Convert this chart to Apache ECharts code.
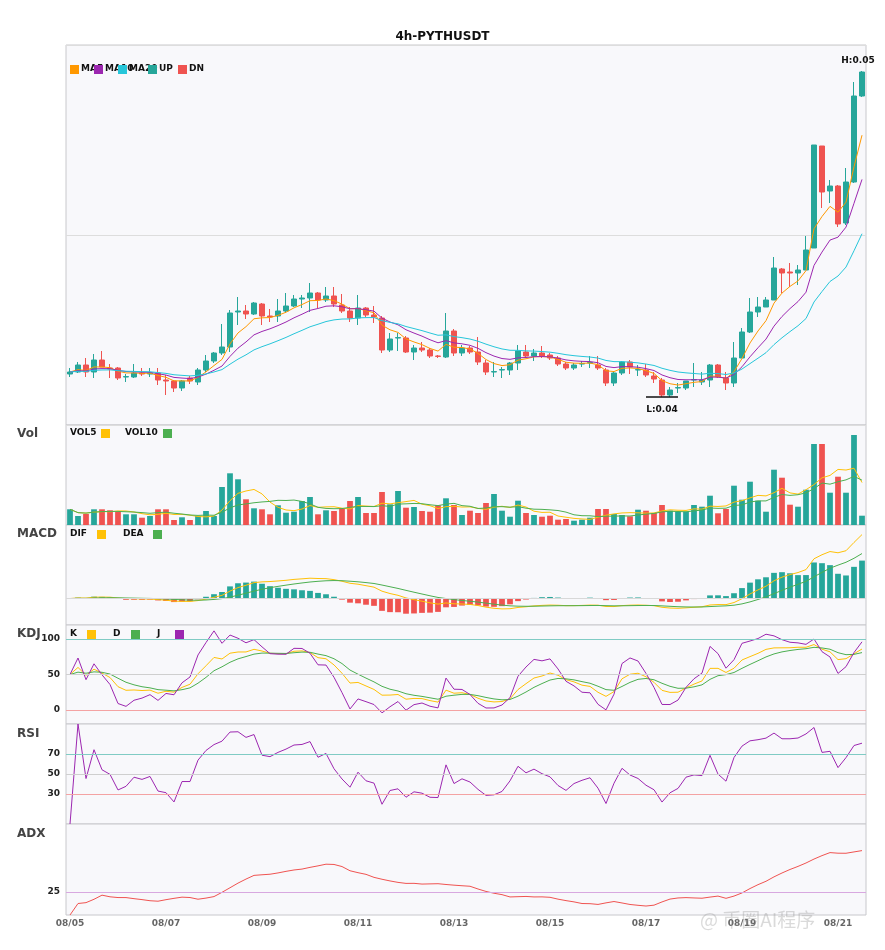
<!DOCTYPE html>
<html>
<head>
<meta charset="utf-8">
<script src="https://cdn.jsdelivr.net/npm/echarts@6/dist/echarts.min.js"></script>
<style>
html,body{margin:0;padding:0;background:#fff;}
#main{width:885px;height:950px;}
</style>
</head>
<body>
<div id="main"></div>
<script>
// 4h candles, 08/05 00:00 .. 08/21 12:00
var startDay = 5;
// [open, close, low, high]
var ohlc = [
[0.03955,0.03965,0.03940,0.03985],[0.03965,0.04000,0.03960,0.04015],[0.04000,0.03965,0.03940,0.04035],[0.03965,0.04025,0.03935,0.04055],
[0.04025,0.03990,0.03990,0.04070],[0.03985,0.03980,0.03935,0.04005],[0.03985,0.03935,0.03925,0.03990],[0.03940,0.03942,0.03915,0.03955],
[0.03940,0.03960,0.03935,0.04005],[0.03960,0.03955,0.03945,0.03985],[0.03955,0.03960,0.03940,0.03985],[0.03960,0.03925,0.03900,0.03985],
[0.03925,0.03920,0.03850,0.03950],[0.03920,0.03885,0.03865,0.03925],[0.03885,0.03920,0.03870,0.03925],[0.03935,0.03920,0.03905,0.03945],
[0.03915,0.03975,0.03900,0.03985],[0.03975,0.04020,0.03965,0.04050],[0.04020,0.04060,0.04010,0.04065],[0.04060,0.04090,0.04050,0.04205],
[0.04090,0.04260,0.04065,0.04275],[0.04265,0.04270,0.04200,0.04340],[0.04270,0.04255,0.04230,0.04300],[0.04255,0.04310,0.04250,0.04315],
[0.04305,0.04245,0.04200,0.04310],[0.04245,0.04240,0.04215,0.04280],[0.04245,0.04270,0.04215,0.04330],[0.04270,0.04295,0.04260,0.04360],
[0.04295,0.04330,0.04290,0.04350],[0.04330,0.04335,0.04285,0.04350],[0.04335,0.04360,0.04265,0.04410],[0.04360,0.04325,0.04285,0.04365],
[0.04325,0.04345,0.04315,0.04390],[0.04345,0.04305,0.04290,0.04390],[0.04300,0.04270,0.04260,0.04355],[0.04270,0.04235,0.04215,0.04290],
[0.04235,0.04285,0.04200,0.04350],[0.04285,0.04250,0.04240,0.04290],[0.04250,0.04240,0.04210,0.04295],[0.04235,0.04075,0.04060,0.04245],
[0.04075,0.04130,0.04065,0.04160],[0.04135,0.04137,0.04070,0.04160],[0.04135,0.04065,0.04060,0.04145],[0.04065,0.04085,0.04025,0.04100],
[0.04085,0.04075,0.04065,0.04115],[0.04075,0.04045,0.04035,0.04085],[0.04045,0.04043,0.04035,0.04050],[0.04040,0.04170,0.04035,0.04260],
[0.04170,0.04060,0.04045,0.04180],[0.04060,0.04085,0.04045,0.04100],[0.04085,0.04065,0.04055,0.04095],[0.04065,0.04015,0.04000,0.04140],
[0.04010,0.03965,0.03950,0.04025],[0.03965,0.03967,0.03940,0.04015],[0.03975,0.03977,0.03935,0.03990],[0.03975,0.04010,0.03950,0.04015],
[0.04010,0.04070,0.03975,0.04100],[0.04065,0.04045,0.04035,0.04100],[0.04045,0.04060,0.04020,0.04080],[0.04060,0.04045,0.04035,0.04095],
[0.04050,0.04035,0.04025,0.04060],[0.04035,0.04005,0.03995,0.04045],[0.04005,0.03985,0.03975,0.04015],[0.03985,0.04000,0.03975,0.04010],
[0.04005,0.04007,0.03990,0.04020],[0.04010,0.04012,0.03985,0.04045],[0.04000,0.03985,0.03975,0.04045],[0.03975,0.03910,0.03895,0.03985],
[0.03910,0.03960,0.03895,0.03970],[0.03960,0.04015,0.03950,0.04020],[0.04015,0.03990,0.03955,0.04025],[0.03975,0.03977,0.03945,0.04000],
[0.03975,0.03950,0.03940,0.04005],[0.03945,0.03930,0.03910,0.03965],[0.03925,0.03850,0.03840,0.03935],[0.03850,0.03875,0.03840,0.03890],
[0.03885,0.03887,0.03860,0.03910],[0.03885,0.03920,0.03875,0.03920],[0.03925,0.03927,0.03890,0.04010],[0.03915,0.03925,0.03900,0.03965],
[0.03925,0.04000,0.03890,0.04005],[0.04000,0.03940,0.03935,0.04005],[0.03935,0.03910,0.03875,0.03965],[0.03910,0.04035,0.03890,0.04115],
[0.04035,0.04165,0.04035,0.04185],[0.04165,0.04265,0.04160,0.04335],[0.04265,0.04290,0.04240,0.04340],[0.04290,0.04325,0.04290,0.04340],
[0.04325,0.04485,0.04325,0.04540],[0.04480,0.04460,0.04360,0.04485],[0.04465,0.04460,0.04390,0.04510],[0.04460,0.04475,0.04400,0.04500],
[0.04475,0.04575,0.04475,0.04645],[0.04585,0.05100,0.04585,0.05100],[0.05095,0.04865,0.04785,0.05095],[0.04870,0.04895,0.04810,0.04925],
[0.04895,0.04705,0.04690,0.04900],[0.04710,0.04915,0.04700,0.04985],[0.04915,0.05345,0.04910,0.05415],[0.05345,0.05465,0.05340,0.05470]
];
var volumes = [
15.7,9,11,15.7,15.7,14.7,13.3,10.7,10.7,7.3,9,15.7,15.7,5,7.7,5,9,14,9,38,
51.7,45.7,25.7,16.7,15.7,10.7,19.7,12.3,13.3,24,28,10.7,14.7,14,16.7,24,28,12,12,33,
20.7,34,17.3,18,14,13.3,19.7,26.7,20,10,14.3,12,22,31,14.3,8.3,24.3,12,10,8.3,
9.3,5.3,6,4.3,5.3,7.3,16,16,11,10,8.7,15.3,14.3,12,20,14.3,13.3,13.3,20,18.3,
29.3,11.7,16,39.3,25.3,43.3,24.3,13.3,55.3,47.3,20.3,18.3,35.3,81,81,32.3,48.3,32.3,90,9.3
];

var UP = '#26a69a', DN = '#ef5350';
var C_MA5 = '#ff9800', C_MA10 = '#9c27b0', C_MA20 = '#26c6da';
var C_Y = '#ffc107', C_G = '#4caf50';

var cats = [];
for (var i = 0; i < ohlc.length; i++) {
    var d = startDay + Math.floor(i / 6);
    var h = (i % 6) * 4;
    cats.push('08/' + (d < 10 ? '0' + d : d) + ' ' + (h < 10 ? '0' + h : h) + ':00');
}
var closes = ohlc.map(function (r) { return r[1]; });

function ma(arr, n) {
    var out = [];
    for (var i = 0; i < arr.length; i++) {
        var s = 0, c = 0;
        for (var j = Math.max(0, i - n + 1); j <= i; j++) { s += arr[j]; c++; }
        out.push(s / c);
    }
    return out;
}
function ema(arr, n) {
    var out = [], a = 2 / (n + 1);
    for (var i = 0; i < arr.length; i++) out.push(i ? out[i - 1] + a * (arr[i] - out[i - 1]) : arr[i]);
    return out;
}
var ma5 = ema(closes, 5), ma10 = ema(closes, 10), ma20 = ema(closes, 20);
var vol5 = ma(volumes, 5), vol10 = ma(volumes, 10);
var e12 = ema(closes, 12), e26 = ema(closes, 26);
var dif = e12.map(function (v, i) { return v - e26[i]; });
var dea = ema(dif, 9);
var hist = dif.map(function (v, i) { return (v - dea[i]) * 2; });

// KDJ 9,3,3
var kArr = [], dArr = [], jArr = [], K = 50, D = 50;
for (var i = 0; i < ohlc.length; i++) {
    var lo = 1e9, hi = -1e9;
    for (var j = Math.max(0, i - 8); j <= i; j++) { lo = Math.min(lo, ohlc[j][2]); hi = Math.max(hi, ohlc[j][3]); }
    var rsv = hi > lo ? (closes[i] - lo) / (hi - lo) * 100 : 50;
    if (i > 0) { K = 2 / 3 * K + rsv / 3; D = 2 / 3 * D + K / 3; }
    kArr.push(K); dArr.push(D); jArr.push(3 * K - 2 * D);
}
// RSI 6
var rsi = [0], ag = 0, al = 0;
for (var i = 1; i < closes.length; i++) {
    var ch = closes[i] - closes[i - 1];
    ag = ag + (Math.max(ch, 0) - ag) / 6;
    al = al + (Math.max(-ch, 0) - al) / 6;
    rsi.push(ag + al > 0 ? ag / (ag + al) * 100 : 0);
}
// ADX
var adx = [0], sTR = 0, sP = 0, sM = 0, A = 0;
for (var i = 1; i < ohlc.length; i++) {
    var hN = ohlc[i][3], lN = ohlc[i][2], hP = ohlc[i - 1][3], lP = ohlc[i - 1][2], cP = closes[i - 1];
    var tr = Math.max(hN - lN, Math.abs(hN - cP), Math.abs(lN - cP));
    var up = hN - hP, dn = lP - lN;
    var pdm = up > dn && up > 0 ? up : 0, mdm = dn > up && dn > 0 ? dn : 0;
    var n = Math.min(i, 10);
    sTR += (tr - sTR) / n; sP += (pdm - sP) / n; sM += (mdm - sM) / n;
    var pdi = sP / sTR * 100, mdi = sM / sTR * 100;
    var dx = pdi + mdi > 0 ? Math.abs(pdi - mdi) / (pdi + mdi) * 100 : 0;
    A += (dx - A) / 8;
    adx.push(A);
}

var hiIdx = 0, loIdx = 0;
ohlc.forEach(function (r, i) {
    if (r[3] > ohlc[hiIdx][3]) hiIdx = i;
    if (r[2] < ohlc[loIdx][2]) loIdx = i;
});

var candleData = ohlc.map(function (r) { return [r[0], r[1], r[2], r[3]]; });
var volData = volumes.map(function (v, i) {
    return { value: v, itemStyle: { color: ohlc[i][1] >= ohlc[i][0] ? UP : DN } };
});
var histData = hist.map(function (v) { return { value: v, itemStyle: { color: v >= 0 ? UP : DN } }; });

var macdMax = Math.max.apply(null, dif.concat(dea, hist)) * 1.15;

var L = 66, W = 800;
var grids = [
    { left: L, width: W, top: 45, height: 380 },
    { left: L, width: W, top: 425, height: 100 },
    { left: L, width: W, top: 525, height: 100 },
    { left: L, width: W, top: 625, height: 99 },
    { left: L, width: W, top: 724, height: 100 },
    { left: L, width: W, top: 824, height: 91 }
].map(function (g) {
    g.show = true; g.backgroundColor = '#f8f8fb'; g.borderColor = '#c8c8cc'; g.borderWidth = 1;
    return g;
});

var xAxes = grids.map(function (g, i) {
    return {
        type: 'category', gridIndex: i, data: cats, boundaryGap: true,
        axisLine: { show: false }, axisTick: { show: false }, splitLine: { show: false },
        axisLabel: {
            show: i === 5, interval: 11, color: '#666', fontSize: 9, fontWeight: 'bold',
            fontFamily: 'DejaVu Sans', margin: 4,
            formatter: function (v) { return v.slice(0, 5); }
        }
    };
});
var lbl = { color: '#222', fontSize: 9, fontWeight: 'bold', fontFamily: 'DejaVu Sans', margin: 6 };
var yAxes = [
    { gridIndex: 0, min: 0.037, max: 0.056, interval: 0.0095, axisLabel: { show: false },
      splitLine: { show: true, lineStyle: { color: '#ddd' } }, axisLine: { show: false }, axisTick: { show: false } },
    { gridIndex: 1, min: 0, max: 100, axisLabel: { show: false }, splitLine: { show: false }, axisLine: { show: false }, axisTick: { show: false } },
    { gridIndex: 2, min: -macdMax * 0.36, max: macdMax, axisLabel: { show: false }, splitLine: { show: false }, axisLine: { show: false }, axisTick: { show: false } },
    { gridIndex: 3, min: -20, max: 120, axisLabel: Object.assign({ customValues: [0, 50, 100] }, lbl), splitLine: { show: false }, axisLine: { show: false }, axisTick: { show: false } },
    { gridIndex: 4, min: 0, max: 100, axisLabel: Object.assign({ customValues: [30, 50, 70] }, lbl), splitLine: { show: false }, axisLine: { show: false }, axisTick: { show: false } },
    { gridIndex: 5, min: 0, max: 99, axisLabel: Object.assign({ customValues: [25] }, lbl), splitLine: { show: false }, axisLine: { show: false }, axisTick: { show: false } }
];

function line(name, data, color, xi, extra) {
    var s = { name: name, type: 'line', data: data, xAxisIndex: xi, yAxisIndex: xi, symbol: 'none',
        lineStyle: { color: color, width: 1 }, silent: true, z: 3 };
    return Object.assign(s, extra || {});
}
function hlines(vals) {
    return { silent: true, symbol: 'none', label: { show: false },
        data: vals.map(function (v) { return { yAxis: v[0], lineStyle: { color: v[1], width: 1, type: 'solid' } }; }) };
}

var series = [
    { name: 'K', type: 'candlestick', data: candleData, xAxisIndex: 0, yAxisIndex: 0, barWidth: '72%',
      itemStyle: { color: UP, color0: DN, borderColor: UP, borderColor0: DN, borderWidth: 1 },
      markLine: { silent: true, symbol: 'none', label: { show: false }, lineStyle: { color: '#111', width: 1.5, type: 'solid' },
        data: [
          [{ coord: [hiIdx - 2, ohlc[hiIdx][3]] }, { coord: [hiIdx + 2, ohlc[hiIdx][3]] }],
          [{ coord: [loIdx - 2, ohlc[loIdx][2]] }, { coord: [loIdx + 2, ohlc[loIdx][2]] }]
        ] },
      markPoint: { symbol: 'circle', symbolSize: 0,
        label: { color: '#111', fontSize: 9, fontWeight: 'bold', fontFamily: 'DejaVu Sans' },
        data: [
          { coord: [hiIdx, ohlc[hiIdx][3]], label: { formatter: 'H:' + ohlc[hiIdx][3].toFixed(2), position: 'top', offset: [-4, -1] } },
          { coord: [loIdx, ohlc[loIdx][2]], label: { formatter: 'L:' + ohlc[loIdx][2].toFixed(2), position: 'bottom', offset: [0, 3] } }
        ] } },
    line('MA5', ma5, C_MA5, 0),
    line('MA10', ma10, C_MA10, 0),
    line('MA20', ma20, C_MA20, 0),
    { type: 'bar', data: volData, xAxisIndex: 1, yAxisIndex: 1, barWidth: '72%', silent: true },
    line('VOL5', vol5, C_Y, 1),
    line('VOL10', vol10, C_G, 1),
    { type: 'bar', data: histData, xAxisIndex: 2, yAxisIndex: 2, barWidth: '72%', silent: true,
      markLine: hlines([[0, '#d8d8d8']]) },
    line('DIF', dif, C_Y, 2),
    line('DEA', dea, C_G, 2),
    line('Kline', kArr, C_Y, 3, { markLine: hlines([[100, '#80cbc4'], [50, '#cfcfcf'], [0, '#f4a3a3']]) }),
    line('D', dArr, C_G, 3),
    line('J', jArr, C_MA10, 3),
    line('RSI', rsi, C_MA10, 4, { markLine: hlines([[70, '#80cbc4'], [50, '#cfcfcf'], [30, '#f4a3a3']]) }),
    line('ADX', adx, DN, 5, { markLine: hlines([[25, '#d8a8e0']]) })
];

// legends and panel titles
var gfx = [];
function txt(x, y, s, size, color) {
    gfx.push({ type: 'text', left: x, top: y, z: 10,
        style: { text: s, fontSize: size || 9, fontWeight: 'bold', fontFamily: 'DejaVu Sans', fill: color || '#111' } });
}
function box(x, y, c) {
    gfx.push({ type: 'rect', left: x, top: y, z: 11, shape: { width: 9, height: 9 }, style: { fill: c } });
}
var mainLeg = [['MA5', C_MA5, 70], ['MA10', C_MA10, 94], ['MA20', C_MA20, 118], ['UP', UP, 148], ['DN', DN, 178]];
mainLeg.forEach(function (l) { box(l[2], 65, l[1]); txt(l[2] + 11, 64, l[0]); });
txt(70, 428, 'VOL5'); box(101, 429, C_Y); txt(125, 428, 'VOL10'); box(163, 429, C_G);
txt(70, 529, 'DIF'); box(97, 530, C_Y); txt(123, 529, 'DEA'); box(153, 530, C_G);
txt(70, 629, 'K'); box(87, 630, C_Y); txt(113, 629, 'D'); box(131, 630, C_G); txt(157, 629, 'J'); box(175, 630, C_MA10);
[['Vol', 428], ['MACD', 528], ['KDJ', 628], ['RSI', 728], ['ADX', 828]].forEach(function (p) {
    txt(17, p[1], p[0], 12, '#444');
});
gfx.push({ type: 'text', left: 700, top: 910, z: 20,
    style: { text: '@ 币圈AI程序', fontSize: 19, fontFamily: 'Noto Sans CJK SC', fill: 'rgba(150,150,150,0.35)' } });

var myChart = echarts.init(document.getElementById('main'));
myChart.setOption({
    animation: false,
    backgroundColor: '#fff',
    title: { text: '4h-PYTHUSDT', left: 'center', top: 26,
        textStyle: { fontSize: 12, fontWeight: 'bold', color: '#111', fontFamily: 'DejaVu Sans' } },
    grid: grids,
    xAxis: xAxes,
    yAxis: yAxes,
    series: series,
    graphic: gfx
});
</script>
</body>
</html>
